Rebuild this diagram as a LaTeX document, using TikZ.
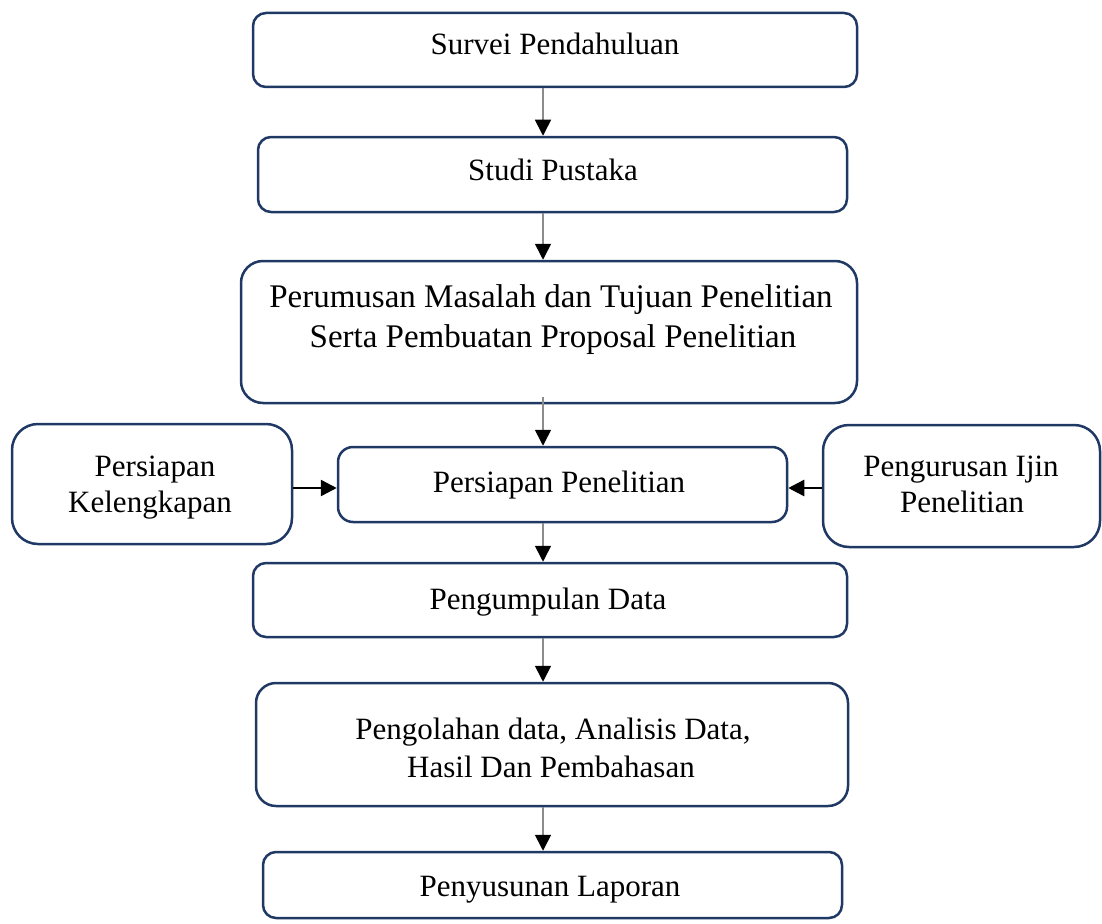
\documentclass[tikz,border=0pt]{standalone}
\usepackage{fontspec}
\setmainfont{Liberation Serif}
\usetikzlibrary{arrows.meta}
\definecolor{navy}{HTML}{1F3864}
\definecolor{arrgray}{HTML}{8C8C8C}
\begin{document}
\begin{tikzpicture}[x=1pt,y=-1pt,
  box/.style={draw=navy, line width=2.5pt, inner sep=0pt, rectangle},
  txt/.style={inner sep=0pt, anchor=base, font=\fontsize{31}{38}\selectfont},
  bigtxt/.style={txt, font=\fontsize{33}{40}\selectfont},
  varrow/.style={draw=arrgray, line width=1.6pt, -{Triangle[length=16pt,width=16pt,color=black]}},
  harrow/.style={draw=black, line width=2.5pt, -{Triangle[length=16pt,width=16pt,color=black]}}]
\useasboundingbox (0,0) rectangle (1102,923);
% boxes
\node[box, minimum width=604pt, minimum height=74pt, rounded corners=13pt] (b1) at (555,50) {};
\node[box, minimum width=589pt, minimum height=75pt, rounded corners=13pt] (b2) at (552.5,174.5) {};
\node[box, minimum width=616pt, minimum height=142pt, rounded corners=22pt] (b3) at (549,332) {};
\node[box, minimum width=449pt, minimum height=75pt, rounded corners=15pt] (b4) at (562.5,484.5) {};
\node[box, minimum width=594pt, minimum height=74pt, rounded corners=13pt] (b5) at (550,600) {};
\node[box, minimum width=592pt, minimum height=123pt, rounded corners=20pt] (b6) at (552,744.5) {};
\node[box, minimum width=579pt, minimum height=66pt, rounded corners=13pt] (b7) at (552.5,885) {};
\node[box, minimum width=280pt, minimum height=120pt, rounded corners=26pt] (kel) at (152,484) {};
\node[box, minimum width=277pt, minimum height=122pt, rounded corners=26pt] (ijin) at (961.5,486) {};
% texts
\node[txt] (t1) at (555,55) {Survei Pendahuluan};
\node[txt] (t2) at (553,180) {Studi Pustaka};
\node[bigtxt] (t3a) at (551,307) {Perumusan Masalah dan Tujuan Penelitian};
\node[bigtxt] (t3b) at (553,347) {Serta Pembuatan Proposal Penelitian};
\node[txt] (t4) at (559,492) {Persiapan Penelitian};
\node[txt] (t5) at (548,609) {Pengumpulan Data};
\node[txt] (t6a) at (553,739) {Pengolahan data, Analisis Data,};
\node[txt] (t6b) at (551,777) {Hasil Dan Pembahasan};
\node[txt] (t7) at (550,896) {Penyusunan Laporan};
\node[txt] (tk1) at (155,476) {Persiapan};
\node[txt] (tk2) at (150,512) {Kelengkapan};
\node[txt] (ti1) at (961,476) {Pengurusan Ijin};
\node[txt] (ti2) at (962,512) {Penelitian};
% connectors
\coordinate (ax) at (543,0);
\coordinate (ay) at (0,488);
\draw[varrow] (b1.south -| ax) -- (b2.north -| ax);
\draw[varrow] (b2.south -| ax) -- (b3.north -| ax);
\draw[varrow] ([yshift=7pt]b3.south -| ax) -- (b4.north -| ax);
\draw[varrow] (b4.south -| ax) -- (b5.north -| ax);
\draw[varrow] (b5.south -| ax) -- (b6.north -| ax);
\draw[varrow] (b6.south -| ax) -- (b7.north -| ax);
\draw[harrow] (kel.east |- ay) -- (b4.west |- ay);
\draw[harrow] (ijin.west |- ay) -- (b4.east |- ay);
\end{tikzpicture}
\end{document}
